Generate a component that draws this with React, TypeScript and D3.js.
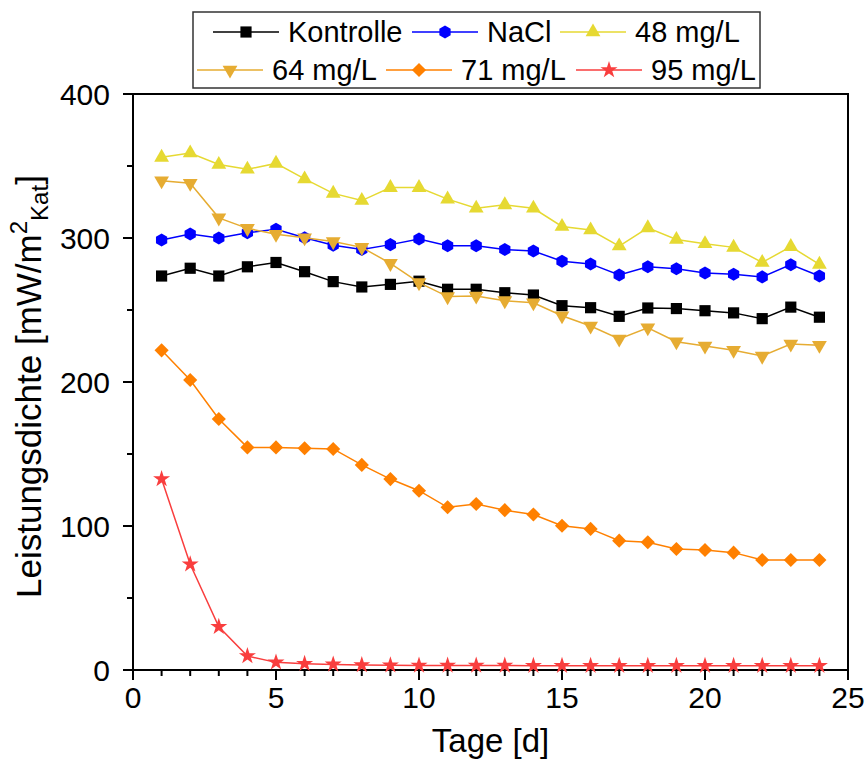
import React from 'react';
import * as d3 from 'd3';

// Tage
const days = [1, 2, 3, 4, 5, 6, 7, 8, 9, 10, 11, 12, 13, 14, 15, 16, 17, 18, 19, 20, 21, 22, 23, 24];

// Leistungsdichte je Reihe
const kontrolle = [273.6, 279, 273.6, 280, 283, 276.6, 269.7, 266, 267.8, 270, 264.4, 264.4, 262, 260.4, 253, 251.6, 245.6, 251.4, 251, 249.5, 248, 244, 252, 245];
const nacl = [298.6, 302.8, 300, 303.7, 306, 300.2, 295, 292, 295.4, 299.3, 294.7, 294.7, 292, 291, 283.8, 282, 274.3, 280, 278.7, 275.7, 274.8, 273, 281.5, 273.6];
const mg48 = [356, 359, 351, 347.7, 351.8, 341, 331, 326, 335, 335, 327, 320.6, 323, 320.6, 308, 305.5, 294.4, 307, 299, 296, 293.5, 283, 294, 281.7];
const mg64 = [339.8, 338, 314, 306.7, 302.6, 300.2, 297.5, 293.5, 282.4, 269, 259.3, 259.7, 256.5, 255, 246, 238.9, 229.9, 237.7, 228, 225, 222, 218, 226.4, 225.5];
const mg71 = [222, 201.4, 174.3, 154.6, 154.6, 154, 153.5, 142.4, 132.6, 124.5, 113, 115.3, 111, 108, 100.2, 98, 89.8, 88.7, 84, 83.3, 81.5, 76.4, 76.4, 76.4];
const mg95 = [132.6, 73.4, 30, 9.7, 5.3, 4.4, 3.9, 3.5, 3.3, 3.2, 3.2, 3.1, 3.1, 3, 3, 3, 3, 3, 3, 3, 3, 3, 3, 3];

const xTicks = [0, 5, 10, 15, 20, 25];
const yTicks = [0, 100, 200, 300, 400];

// eigenes Sechseck-Symbol
const symbolHexagon = {
  draw(ctx: any, size: number) {
    const r = Math.sqrt((2 * size) / (3 * Math.sqrt(3)));
    for (let i = 0; i < 6; i++) {
      const a = (Math.PI / 3) * i;
      const px = r * Math.sin(a), py = -r * Math.cos(a);
      if (i === 0) ctx.moveTo(px, py); else ctx.lineTo(px, py);
    }
    ctx.closePath();
  }
};

const series = [
  { name: 'Kontrolle', values: kontrolle, color: '#000000', symbol: d3.symbolSquare, size: 125, rotate: 0 },
  { name: 'NaCl', values: nacl, color: '#0000ff', symbol: symbolHexagon, size: 110, rotate: 0 },
  { name: '48 mg/L', values: mg48, color: '#e6d932', symbol: d3.symbolTriangle, size: 95, rotate: 0 },
  { name: '64 mg/L', values: mg64, color: '#e6ac32', symbol: d3.symbolTriangle, size: 95, rotate: 180 },
  { name: '71 mg/L', values: mg71, color: '#ff8000', symbol: d3.symbolSquare, size: 100, rotate: 45 },
  { name: '95 mg/L', values: mg95, color: '#f93e3e', symbol: d3.symbolStar, size: 90, rotate: 0 },
];

// Legendenpositionen (Linie links, Text)
const legendPos = [
  { x: 213, y: 32 }, { x: 412, y: 32 }, { x: 560, y: 32 },
  { x: 197, y: 70 }, { x: 386, y: 70 }, { x: 576, y: 70 },
];

const FONT = '"Liberation Sans", Arial, sans-serif';

export default function App() {
  const width = 866, height = 762;
  const x = d3.scaleLinear().domain([0, 25]).range([133, 848]);
  const y = d3.scaleLinear().domain([0, 400]).range([670, 94]);

  const line = d3.line<number>().x((d, i) => x(days[i])).y(d => y(d));

  const minorX = d3.range(0, 26).filter(v => v % 5 !== 0);
  const minorY = d3.range(0, 401, 50).filter(v => v % 100 !== 0);

  return (
    <div style={{ position: 'absolute', left: 0, top: 0 }}>
      <svg width={width} height={height} style={{ display: 'block', background: '#fff' }} fontFamily={FONT}>
        {/* Rahmen */}
        <rect x={x(0)} y={y(400)} width={x(25) - x(0)} height={y(0) - y(400)} fill='none' stroke='#000' strokeWidth={2} />

        {/* x-Achse */}
        {xTicks.map(t => (
          <g key={'xt' + t} transform={`translate(${x(t)},${y(0)})`}>
            <line y2={10} stroke='#000' strokeWidth={2} />
            <text y={38} textAnchor='middle' fontSize={30}>{t}</text>
          </g>
        ))}
        {minorX.map(t => (
          <line key={'xm' + t} x1={x(t)} x2={x(t)} y1={y(0)} y2={y(0) + 6} stroke='#000' strokeWidth={2} />
        ))}
        <text x={(x(0) + x(25)) / 2} y={752} textAnchor='middle' fontSize={33}>Tage [d]</text>

        {/* y-Achse */}
        {yTicks.map(t => (
          <g key={'yt' + t} transform={`translate(${x(0)},${y(t)})`}>
            <line x2={-10} stroke='#000' strokeWidth={2} />
            <text x={-23} dy='0.36em' textAnchor='end' fontSize={30}>{t}</text>
          </g>
        ))}
        {minorY.map(t => (
          <line key={'ym' + t} x1={x(0)} x2={x(0) - 6} y1={y(t)} y2={y(t)} stroke='#000' strokeWidth={2} />
        ))}
        <text transform={`translate(41,598) rotate(-90)`} textAnchor='start' fontSize={35}>
          Leistungsdichte [mW/m<tspan dy={-14} fontSize={24}>2</tspan><tspan dy={21} fontSize={24}>Kat</tspan><tspan dy={-7}>]</tspan>
        </text>

        {/* Daten */}
        {series.map(s => (
          <g key={s.name}>
            <path d={line(s.values) || ''} fill='none' stroke={s.color} strokeWidth={1.5} />
            {s.values.map((v, i) => (
              <path
                key={i}
                transform={`translate(${x(days[i])},${y(v)}) rotate(${s.rotate})`}
                d={d3.symbol().type(s.symbol as any).size(s.size)() || ''}
                fill={s.color}
              />
            ))}
          </g>
        ))}

        {/* Legende */}
        <rect x={193} y={12} width={567} height={76} fill='#fff' stroke='#333' strokeWidth={1.5} />
        {series.map((s, i) => {
          const p = legendPos[i];
          return (
            <g key={'lg' + s.name}>
              <line x1={p.x} x2={p.x + 66} y1={p.y} y2={p.y} stroke={s.color} strokeWidth={1.5} />
              <path
                transform={`translate(${p.x + 33},${p.y}) rotate(${s.rotate})`}
                d={d3.symbol().type(s.symbol as any).size(s.size)() || ''}
                fill={s.color}
              />
              <text x={p.x + 75} y={p.y + 10} fontSize={29}>{s.name}</text>
            </g>
          );
        })}
      </svg>
    </div>
  );
}
